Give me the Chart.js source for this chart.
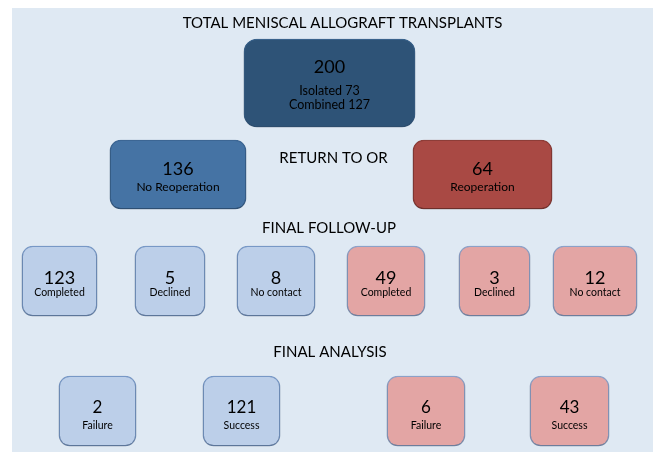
<!DOCTYPE html>
<html>
<head>
<meta charset="utf-8">
<script src="https://cdn.jsdelivr.net/npm/chart.js@4/dist/chart.umd.min.js"></script>
<style>
  html, body { margin: 0; padding: 0; background: #ffffff; }
  #wrap { width: 657px; height: 454px; }
</style>
</head>
<body>
<div id="wrap"><canvas id="c" width="657" height="454"></canvas></div>
<script>
// ---------- DATA ----------
const rowHeadings = ['TOTAL MENISCAL ALLOGRAFT TRANSPLANTS', 'RETURN TO OR', 'FINAL FOLLOW-UP', 'FINAL ANALYSIS'];
const nodeCounts  = [200, 136, 64, 123, 5, 8, 49, 3, 12, 2, 121, 6, 43];
const nodeLabels  = [
  ['Isolated 73', 'Combined 127'],
  ['No Reoperation'], ['Reoperation'],
  ['Completed'], ['Declined'], ['No contact'],
  ['Completed'], ['Declined'], ['No contact'],
  ['Failure'], ['Success'], ['Failure'], ['Success']
];
const nodeRow     = [0, 1, 1, 2, 2, 2, 2, 2, 2, 3, 3, 3, 3];
const nodeBranch  = ['all', 'no', 're', 'no', 'no', 'no', 're', 're', 're', 'no', 'no', 're', 're'];

// ---------- LAYOUT (diagram geometry, in axis units) ----------
const nodeSpans = [[244,415],[110,246],[413,552],[22,97],[135,205],[237,315],[347,425],[459,530],[553,637],[59,136],[203,280],[387,465],[530,609]];
const rowCenters = [83, 174.5, 281, 411];
const rowHeights = [88, 69, 70, 70];
const rowNumBase = [-10.5, 0, 3, 1.5];
const rowLblBase = [[12, 26], [16.5], [15], [17.5]];
const rowNumFont = [18, 18, 18, 17];
const rowLblFont = [12.5, 12, 10.5, 10.5];
const headingPos = [[342.5, 27.5], [333.5, 163], [329, 233], [330, 357]];
const panel = [12, 653, 8, 452];

// ---------- STYLES ----------
const FONT = 'Lato, "Open Sans", sans-serif';
function fillFor(row, branch) {
  if (row === 0) return '#2e5377';
  if (row === 1) return branch === 'no' ? '#4573a4' : '#a94944';
  return branch === 'no' ? '#bccfe9' : '#e3a5a4';
}
function borderFor(row, branch) {
  if (row === 0) return '#3d6893';
  if (row === 1) return branch === 'no' ? '#3f6b9b' : '#94403b';
  return branch === 'no' ? '#7d9fcf' : '#93a9d2';
}

// Build one dataset per row
const datasets = rowHeadings.map((h, r) => {
  const idx = nodeCounts.map((_, i) => i).filter(i => nodeRow[i] === r);
  return {
    label: h,
    nodeIdx: idx,
    data: idx.map(i => ({ x: nodeSpans[i], y: rowCenters[r] })),
    barThickness: rowHeights[r],
    grouped: false,
    borderSkipped: false,
    borderRadius: r === 0 ? 13 : 11,
    borderWidth: 1.3,
    backgroundColor: idx.map(i => fillFor(r, nodeBranch[i])),
    borderColor: idx.map(i => borderFor(r, nodeBranch[i]))
  };
});

const flowPlugin = {
  id: 'flow',
  beforeDraw(chart) {
    const { ctx, scales: { x, y } } = chart;
    ctx.save();
    ctx.fillStyle = '#dfe9f3';
    const x0 = x.getPixelForValue(panel[0]), x1 = x.getPixelForValue(panel[1]);
    const y0 = y.getPixelForValue(panel[2]), y1 = y.getPixelForValue(panel[3]);
    ctx.fillRect(x0, y0, x1 - x0, y1 - y0);
    ctx.restore();
  },
  beforeDatasetsDraw(chart) {
    const ctx = chart.ctx;
    ctx.save();
    ctx.shadowColor = 'rgba(0,0,0,0.35)';
    ctx.shadowBlur = 4;
    ctx.shadowOffsetX = 0;
    ctx.shadowOffsetY = 2;
  },
  afterDatasetsDraw(chart) {
    const { ctx, scales: { x, y } } = chart;
    ctx.restore();
    ctx.save();
    ctx.fillStyle = '#000000';
    ctx.textAlign = 'center';
    ctx.textBaseline = 'alphabetic';
    // headings
    ctx.font = '15px ' + FONT;
    rowHeadings.forEach((h, r) => {
      ctx.fillText(h, x.getPixelForValue(headingPos[r][0]), y.getPixelForValue(headingPos[r][1]));
    });
    // node texts
    chart.data.datasets.forEach((ds, r) => {
      const meta = chart.getDatasetMeta(r);
      meta.data.forEach((el, j) => {
        const i = ds.nodeIdx[j];
        const p = el.getProps(['x', 'y', 'base'], true);
        const cx = (p.x + p.base) / 2;
        const cy = p.y;
        ctx.font = rowNumFont[r] + 'px ' + FONT;
        ctx.fillText(String(nodeCounts[i]), cx, cy + rowNumBase[r]);
        ctx.font = rowLblFont[r] + 'px ' + FONT;
        nodeLabels[i].forEach((t, k) => {
          ctx.fillText(t, cx, cy + rowLblBase[r][k]);
        });
      });
    });
    ctx.restore();
  }
};

new Chart(document.getElementById('c'), {
  type: 'bar',
  data: { datasets },
  options: {
    indexAxis: 'y',
    responsive: false,
    animation: false,
    events: [],
    layout: { padding: 0 },
    plugins: { legend: { display: false }, tooltip: { enabled: false } },
    scales: {
      x: { type: 'linear', min: 0, max: 657, display: false, offset: false },
      y: { type: 'linear', min: 0, max: 454, reverse: true, display: false, offset: false }
    }
  },
  plugins: [flowPlugin]
});
</script>
</body>
</html>
